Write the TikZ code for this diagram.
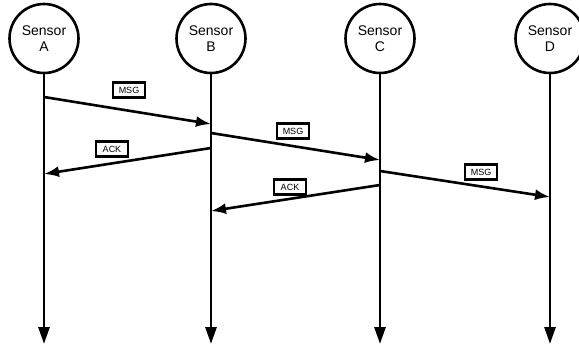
\documentclass[tikz,border=0pt]{standalone}
\usepackage{fontspec}
\setmainfont{Liberation Sans}
\usetikzlibrary{arrows.meta}
\begin{document}
\begin{tikzpicture}[x=1pt,y=-1pt,
  sensor/.style={circle,draw,line width=2.6pt,minimum size=69pt,inner sep=0pt,
    align=center,font=\fontsize{14}{16.5}\selectfont},
  lifeline/.style={line width=2.8pt,-{Triangle[length=17pt,width=11pt]}},
  msgline/.style={line width=2.6pt,-{Latex[length=15pt,width=11pt]}},
  tag/.style={draw,line width=2.2pt,fill=white,inner sep=0pt,minimum width=32pt,
    minimum height=15pt,font=\fontsize{9}{10}\selectfont}]
\useasboundingbox (0,0) rectangle (579,345);
\clip (0,0) rectangle (579,345);

% sensors and their lifelines
\node[sensor] (A) at (44,38.5)  {Sensor\\A};
\node[sensor] (B) at (211,38.5) {Sensor\\B};
\node[sensor] (C) at (380,38.5) {Sensor\\C};
\node[sensor] (D) at (550,38.5) {Sensor\\D};
\coordinate (Aend) at (44,344);
\coordinate (Bend) at (211,344);
\coordinate (Cend) at (380,344);
\coordinate (Dend) at (550,344);
\draw[lifeline] (A.south) -- (Aend);
\draw[lifeline] (B.south) -- (Bend);
\draw[lifeline] (C.south) -- (Cend);
\draw[lifeline] (D.south) -- (Dend);

% message end points on the lifelines
\coordinate (a1) at (44,97);
\coordinate (b1) at (211,124);
\coordinate (b2) at (211,133);
\coordinate (c2) at (380,160);
\coordinate (b3) at (211,148);
\coordinate (a3) at (44,174);
\coordinate (c4) at (380,171);
\coordinate (d4) at (550,197);
\coordinate (c5) at (380,185);
\coordinate (b5) at (211,211);

% messages
\draw[msgline] (a1) -- (b1);
\draw[msgline] (b2) -- (c2);
\draw[msgline] (b3) -- (a3);
\draw[msgline] (c4) -- (d4);
\draw[msgline] (c5) -- (b5);

% message labels
\node[tag] (m1) at (129,90) {MSG};
\node[tag] (m2) at (293,131) {MSG};
\node[tag] (k1) at (112,149) {ACK};
\node[tag] (m3) at (481,172) {MSG};
\node[tag] (k2) at (290,187) {ACK};
\end{tikzpicture}
\end{document}
